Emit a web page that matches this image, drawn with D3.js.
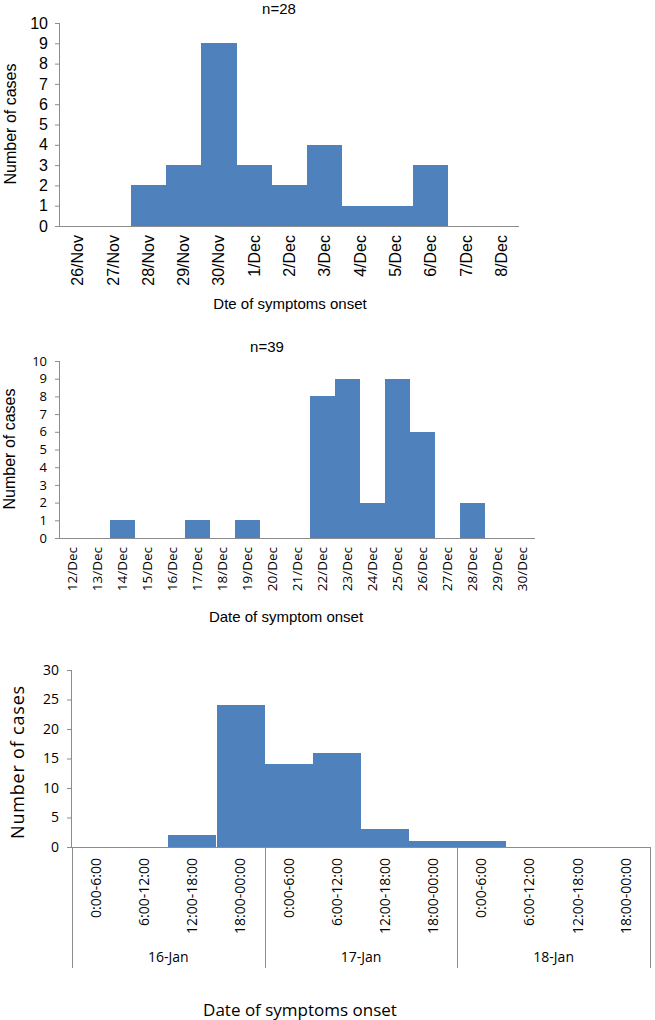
<!DOCTYPE html>
<html>
<head>
<meta charset="utf-8">
<script src="https://cdn.jsdelivr.net/npm/d3@7"></script>
<style>
  html, body { margin: 0; padding: 0; background: #fff; }
  svg { display: block; }
</style>
</head>
<body>
<svg id="chart" width="655" height="1020"></svg>
<script>
// ---- Data ----
const datesA = ["26/Nov","27/Nov","28/Nov","29/Nov","30/Nov","1/Dec","2/Dec","3/Dec","4/Dec","5/Dec","6/Dec","7/Dec","8/Dec"];
const casesA = [0,0,2,3,9,3,2,4,1,1,3,0,0];
const ticksA = [0,1,2,3,4,5,6,7,8,9,10];

const datesB = ["12/Dec","13/Dec","14/Dec","15/Dec","16/Dec","17/Dec","18/Dec","19/Dec","20/Dec","21/Dec","22/Dec","23/Dec","24/Dec","25/Dec","26/Dec","27/Dec","28/Dec","29/Dec","30/Dec"];
const casesB = [0,0,1,0,0,1,0,1,0,0,8,9,2,9,6,0,2,0,0];
const ticksB = [0,1,2,3,4,5,6,7,8,9,10];

const slotsC = ["0:00-6:00","6:00-12:00","12:00-18:00","18:00-00:00","0:00-6:00","6:00-12:00","12:00-18:00","18:00-00:00","0:00-6:00","6:00-12:00","12:00-18:00","18:00-00:00"];
const daysC = ["16-Jan","17-Jan","18-Jan"];
const casesC = [0,0,2,24,14,16,3,1,1,0,0,0];
const ticksC = [0,5,10,15,20,25,30];

const BAR = "#4F81BD";
const AXIS = "#8c8c8c";
const ARIAL = "'Liberation Sans', Arial, Helvetica, sans-serif";
const CAL = "'Open Sans', sans-serif";
const svg = d3.select("#chart");

function drawChart(o) {
  const g = svg.append("g");
  const ids = o.cats.map((c, i) => i);
  const x = d3.scaleBand().domain(ids).range([o.x0, o.x1]).padding(0);
  const y = d3.scaleLinear().domain([0, o.ymax]).range([o.y0, o.y1]);

  // bars
  g.selectAll("rect.bar").data(o.values).enter().append("rect")
    .attr("class", "bar")
    .attr("x", (d, i) => Math.round(x(i)))
    .attr("width", (d, i) => Math.round(x(i) + x.bandwidth()) - Math.round(x(i)))
    .attr("y", d => Math.round(y(d)))
    .attr("height", d => o.y0 - Math.round(y(d)))
    .attr("fill", BAR)
    .attr("shape-rendering", "crispEdges");

  // y axis
  const ya = g.append("g").attr("transform", `translate(${o.x0},0)`)
    .call(d3.axisLeft(y).tickValues(o.ticks).tickSize(5).tickPadding(o.tickPad || 8).tickFormat(d3.format("d")));
  ya.select(".domain").attr("stroke", AXIS).attr("d", `M-0.5,${o.y0}V${o.y1}`);
  ya.selectAll(".tick line").attr("stroke", AXIS);
  ya.selectAll(".tick text").attr("fill", "#000").style("font-family", o.yFont).style("font-size", o.ySize + "px");

  // x axis
  const xa = g.append("g").attr("transform", `translate(0,${o.y0})`)
    .call(d3.axisBottom(x).tickSize(0).tickPadding(0).tickFormat(i => o.cats[i]));
  xa.select(".domain").attr("stroke", AXIS).attr("d", `M${o.x0},0.5H${o.x1}`);
  xa.selectAll(".tick text")
    .attr("transform", "rotate(-90)")
    .attr("x", -o.xLabOff).attr("y", 0).attr("dy", "0.35em")
    .attr("text-anchor", "end")
    .attr("fill", "#000")
    .style("font-family", o.xFont).style("font-size", o.xSize + "px");

  // titles
  if (o.title) {
    g.append("text").attr("x", o.titleX).attr("y", o.titleY).attr("text-anchor", "middle")
      .style("font-family", ARIAL).style("font-size", "15px").text(o.title);
  }
  g.append("text").attr("x", o.xtX).attr("y", o.xtY).attr("text-anchor", "middle")
    .style("font-family", o.xtFont).style("font-size", o.xtSize + "px").text(o.xTitle);
  g.append("text").attr("transform", `translate(${o.ytX},${o.ytY}) rotate(-90)`).attr("text-anchor", "middle")
    .style("font-family", o.ytFont).style("font-size", o.ytSize + "px")
    .style("letter-spacing", (o.ytLs || 0) + "px").text("Number of cases");
  return {g, x, y};
}

// Chart A
drawChart({
  cats: datesA, values: casesA, ticks: ticksA, ymax: 10,
  x0: 60, x1: 519, y0: 226, y1: 23,
  yFont: ARIAL, ySize: 16, tickPad: 7,
  xFont: ARIAL, xSize: 16, xLabOff: 9,
  title: "n=28", titleX: 279, titleY: 14,
  xTitle: "Dte of symptoms onset", xtX: 290, xtY: 309, xtFont: ARIAL, xtSize: 15,
  ytX: 16, ytY: 124, ytFont: ARIAL, ytSize: 16
});

// Chart B
drawChart({
  cats: datesB, values: casesB, ticks: ticksB, ymax: 10,
  x0: 60, x1: 535, y0: 538, y1: 361,
  yFont: CAL, ySize: 13, tickPad: 8,
  xFont: CAL, xSize: 13.5, xLabOff: 9,
  title: "n=39", titleX: 267, titleY: 352,
  xTitle: "Date of symptom onset", xtX: 286, xtY: 622, xtFont: ARIAL, xtSize: 15,
  ytX: 15, ytY: 449, ytFont: ARIAL, ytSize: 16
});

// Chart C
const c = drawChart({
  cats: slotsC, values: casesC, ticks: ticksC, ymax: 30,
  x0: 72, x1: 650, y0: 847, y1: 670,
  yFont: CAL, ySize: 14, tickPad: 8,
  xFont: CAL, xSize: 14, xLabOff: 11,
  title: null,
  xTitle: "Date of symptoms onset", xtX: 300, xtY: 1016, xtFont: CAL, xtSize: 17,
  ytX: 24, ytY: 762, ytFont: CAL, ytSize: 18, ytLs: 0.8
});
// group separators and day labels
const groupEdges = [0, 4, 8, 12];
c.g.selectAll("line.grp").data(groupEdges).enter().append("line")
  .attr("class", "grp")
  .attr("x1", i => Math.round(i < 12 ? c.x(i) : c.x(11) + c.x.bandwidth()) + 0.5)
  .attr("x2", i => Math.round(i < 12 ? c.x(i) : c.x(11) + c.x.bandwidth()) + 0.5)
  .attr("y1", 847).attr("y2", 968)
  .attr("stroke", AXIS).attr("stroke-width", 1);
c.g.selectAll("text.day").data(daysC).enter().append("text")
  .attr("class", "day")
  .attr("x", (d, k) => (c.x(k * 4) + c.x(k * 4 + 3) + c.x.bandwidth()) / 2)
  .attr("y", 962)
  .attr("text-anchor", "middle")
  .style("font-family", CAL).style("font-size", "14px")
  .text(d => d);
</script>
</body>
</html>
